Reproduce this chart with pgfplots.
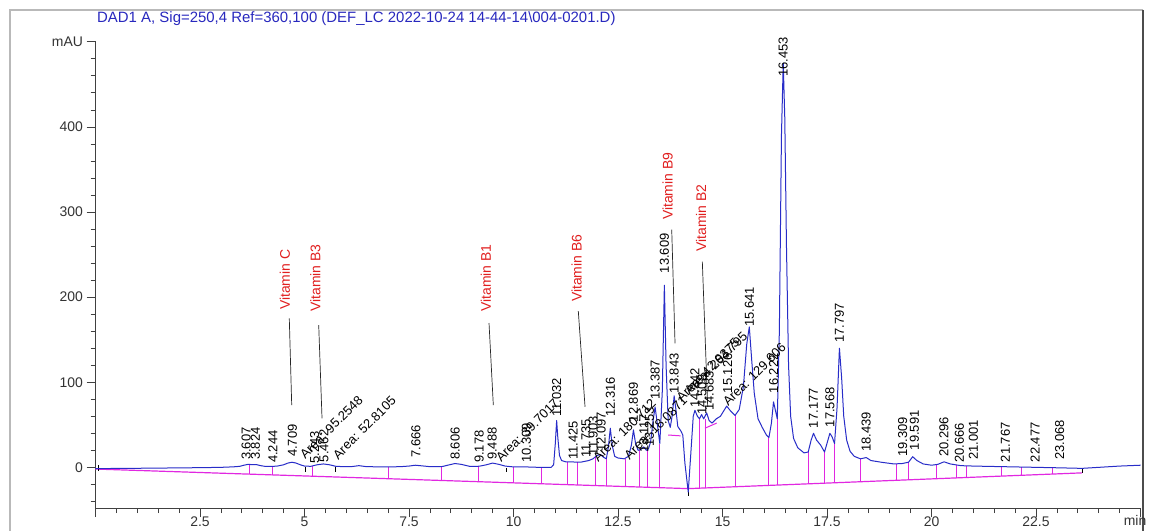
\documentclass[border=0pt]{standalone}
\usepackage{fontspec}
\setmainfont{Liberation Sans}
\usepackage{pgfplots}
\pgfplotsset{compat=1.18}
\definecolor{trace}{RGB}{40,45,200}
\definecolor{bl}{RGB}{225,40,225}
\definecolor{vit}{RGB}{225,30,30}
\definecolor{ttl}{RGB}{40,40,190}
\newcommand\rtf{\fontsize{13}{13}\selectfont}
\newcommand\vitf{\fontsize{14}{14}\selectfont}
\newcommand\rt[3]{\node[rotate=90,anchor=west,inner sep=0pt,font=\rtf] at (axis cs:#1,#2) {#3};}
\newcommand\ar[3]{\node[rotate=45,anchor=west,inner sep=0pt,font=\rtf] at (axis cs:#1,#2) {#3};}
\newcommand\vit[3]{\node[rotate=90,anchor=west,inner sep=0pt,font=\vitf,text=vit] at (axis cs:#1,#2) {#3};}
\begin{document}
\begin{tikzpicture}[x=1bp,y=1bp]
\useasboundingbox (0,0) rectangle (1149,531);
\fill[white] (0,0) rectangle (1149,531);
\draw[gray!55, line width=1.2bp] (10,-5) -- (10,521) -- (1143,521);
\draw[black!70, line width=1.5bp] (1143,521) -- (1143,-5);
\node[anchor=west, inner sep=0pt, text=ttl, font=\fontsize{15}{15}\selectfont] at (97,512) {DAD1 A, Sig=250,4 Ref=360,100 (DEF\_LC 2022-10-24 14-44-14\textbackslash 004-0201.D)};
\begin{axis}[
  at={(95.5bp,22.8bp)}, anchor=south west,
  x=41.8bp, y=0.851bp,
  xmin=0, xmax=25, ymin=-48, ymax=500,
  axis x line=bottom, axis y line=left,
  axis line style={-, black!75, line width=1bp},
  tick align=outside,
  xtick={0,2.5,5,7.5,10,12.5,15,17.5,20,22.5,25},
  xticklabels={,2.5,5,7.5,10,12.5,15,17.5,20,22.5,},
  minor xtick={0.5,1,1.5,2,3,3.5,4,4.5,5.5,6,6.5,7,8,8.5,9,9.5,10.5,11,11.5,12,13,13.5,14,14.5,15.5,16,16.5,17,18,18.5,19,19.5,20.5,21,21.5,22,23,23.5,24,24.5},
  ytick={0,100,200,300,400,500},
  yticklabels={0,100,200,300,400,mAU},
  minor ytick={-40,-20,20,40,60,80,120,140,160,180,220,240,260,280,320,340,360,380,420,440,460,480},
  major tick length=9bp, minor tick length=5bp,
  tick style={black!75, line width=0.8bp},
  ticklabel style={font=\fontsize{14}{14}\selectfont, text=black!80},
  xticklabel style={yshift=4bp},
  clip=false,
]
% baseline
\addplot[bl, line width=1.2bp] coordinates {(0,-2) (14.18,-25) (23.6,-6.5)};
\addplot[bl, line width=1bp] coordinates {(13.7,38) (14.0,37)};
\addplot[bl, line width=1bp] coordinates {(14.58,46) (14.86,52)};
% drop lines
\addplot[bl, line width=1bp, unbounded coords=jump] coordinates {
(3.68,-7.97)(3.68,3.5)(3.68,nan)
(4.23,-8.86)(4.23,1)(4.23,nan)
(5.2,-10.43)(5.2,1.5)(5.2,nan)
(7.02,-13.39)(7.02,0.5)(7.02,nan)
(8.27,-15.41)(8.27,1)(8.27,nan)
(9.16,-16.86)(9.16,1.5)(9.16,nan)
(9.99,-18.2)(9.99,0.5)(9.99,nan)
(10.68,-19.32)(10.68,0)(10.68,nan)
(11.3,-20.33)(11.3,6.5)(11.3,nan)
(11.53,-20.7)(11.53,6)(11.53,nan)
(11.97,-21.42)(11.97,13)(11.97,nan)
(12.22,-21.82)(12.22,10)(12.22,nan)
(12.68,-22.57)(12.68,10)(12.68,nan)
(13.01,-23.1)(13.01,20)(13.01,nan)
(13.21,-23.43)(13.21,22)(13.21,nan)
(13.5,-23.9)(13.5,28)(13.5,nan)
(14.46,-24.45)(14.46,57)(14.46,nan)
(14.59,-24.19)(14.59,57)(14.59,nan)
(15.31,-22.78)(15.31,61)(15.31,nan)
(16.11,-21.21)(16.11,35)(16.11,nan)
(16.31,-20.82)(16.31,57)(16.31,nan)
(17.05,-19.36)(17.05,18)(17.05,nan)
(17.45,-18.58)(17.45,19)(17.45,nan)
(17.69,-18.11)(17.69,28)(17.69,nan)
(18.29,-16.93)(18.29,10)(18.29,nan)
(19.16,-15.22)(19.16,4)(19.16,nan)
(19.45,-14.65)(19.45,6)(19.45,nan)
(20.12,-13.33)(20.12,3)(20.12,nan)
(20.59,-12.41)(20.59,2.5)(20.59,nan)
(20.84,-11.92)(20.84,1.8)(20.84,nan)
(21.68,-10.27)(21.68,1)(21.68,nan)
(22.15,-9.35)(22.15,0.5)(22.15,nan)
(22.89,-7.89)(22.89,-0.5)
};
% black markers
\addplot[black, line width=0.8bp, unbounded coords=jump] coordinates {
(0.08,-4)(0.08,3)(0.08,nan)
(5.01,0)(5.01,-6)(5.01,nan)
(5.74,0)(5.74,-6)(5.74,nan)
(9.84,-1)(9.84,-6)(9.84,nan)
(23.6,-6.5)(23.6,-1)(23.6,nan)
(14.18,-29)(14.18,-34)
};
% trace
\addplot[trace, line width=1bp, line join=round] coordinates {
(0,-1.5)(0.5,-1.3)(1,-1.1)(1.5,-0.9)(2,-0.6)(2.5,-0.4)(3,0)(3.3,0.6)(3.45,1.2)(3.55,2.5)(3.65,3.5)(3.75,3.2)(3.85,3.2)(3.95,2)(4.05,1.2)(4.2,1)(4.35,1.5)(4.5,3)(4.6,5)(4.7,6)(4.8,5)(4.9,3)(5.0,1.5)(5.15,1.2)(5.3,3)(5.45,4)(5.6,3)(5.75,1.2)(5.95,0.8)(6.15,1)(6.3,2)(6.45,1)(6.7,0.6)(7.0,0.5)(7.3,0.8)(7.5,1.5)(7.65,2.5)(7.8,1.8)(8.0,0.8)(8.3,1)(8.45,2.8)(8.6,4.5)(8.75,3.5)(8.95,1.2)(9.1,1)(9.2,1.5)(9.35,3)(9.5,5)(9.65,3.5)(9.8,1.5)(10,0.5)(10.3,0.5)(10.6,0)(10.9,0)(10.96,3)(11.0,28)(11.032,55)(11.06,35)(11.1,14)(11.15,8)(11.25,6.5)(11.4,6.5)(11.5,6)(11.6,6)(11.7,7)(11.8,8)(11.9,10)(12.0,14)(12.08,15)(12.15,12)(12.22,10)(12.27,24)(12.316,46)(12.36,26)(12.42,13)(12.5,11)(12.65,10)(12.75,13)(12.82,26)(12.869,44)(12.92,28)(12.98,20)(13.05,21)(13.117,24)(13.18,20)(13.23,22)(13.28,30)(13.34,55)(13.387,71)(13.43,55)(13.5,28)(13.56,90)(13.609,214)(13.65,120)(13.7,55)(13.75,47)(13.8,62)(13.843,84)(13.88,70)(13.93,48)(14.0,43)(14.05,38)(14.1,5)(14.18,-29)(14.24,15)(14.3,60)(14.34,67)(14.4,60)(14.45,57)(14.5,62)(14.55,57)(14.62,64)(14.68,55)(14.75,52)(14.85,57)(14.95,60)(15.05,68)(15.1,72)(15.18,67)(15.3,61)(15.4,68)(15.5,95)(15.58,145)(15.641,165)(15.7,125)(15.76,87)(15.85,57)(15.95,47)(16.05,38)(16.11,35)(16.17,52)(16.22,77)(16.27,66)(16.31,57)(16.36,160)(16.41,390)(16.453,475)(16.49,410)(16.53,260)(16.58,120)(16.63,60)(16.7,34)(16.8,23)(16.95,17)(17.05,18)(17.12,32)(17.177,40)(17.25,32)(17.35,26)(17.44,18)(17.51,30)(17.568,40)(17.62,36)(17.68,28)(17.74,70)(17.797,140)(17.85,105)(17.9,60)(17.97,32)(18.05,19)(18.15,13)(18.3,10)(18.439,11.5)(18.55,8)(18.8,6)(19.1,4)(19.3,4.5)(19.45,6)(19.55,12.5)(19.65,8)(19.8,4)(20.0,2.5)(20.15,3.5)(20.3,6.5)(20.45,4)(20.7,2)(21.0,1.5)(21.5,1)(22.0,0.5)(22.5,0)(23.0,-0.5)(23.6,-1.2)(24.0,0)(24.5,1.5)(25,2.5)
};
% leader lines
\addplot[black!85, line width=0.7bp, unbounded coords=jump] coordinates {
(4.636,175.1)(4.694,73.2)(4.694,nan)
(5.34,167.2)(5.419,57.6)(5.419,nan)
(9.414,169.6)(9.517,73.2)(9.517,nan)
(11.55,183.6)(11.711,71.2)(11.711,nan)
(13.785,279.4)(13.864,145.7)(13.864,nan)
(14.517,241.6)(14.646,71.2)
};
% vitamin labels
\vit{4.533}{184.8}{Vitamin C}
\vit{5.258}{182.6}{Vitamin B3}
\vit{9.342}{182.6}{Vitamin B1}
\vit{11.512}{194.2}{Vitamin B6}
\vit{13.689}{290.6}{Vitamin B9}
\vit{14.486}{253.3}{Vitamin B2}
% retention time labels
\rt{3.607}{8.6}{3.607}
\rt{3.824}{8.6}{3.824}
\rt{4.244}{5}{4.244}
\rt{4.709}{12}{4.709}
\rt{5.243}{4}{5.243}
\rt{5.462}{6}{5.462}
\rt{7.666}{11}{7.666}
\rt{8.606}{8.6}{8.606}
\rt{9.178}{5}{9.178}
\rt{9.488}{8.6}{9.488}
\rt{10.309}{5}{10.309}
\rt{11.032}{59}{11.032}
\rt{11.425}{8.6}{11.425}
\rt{11.735}{11}{11.735}
\rt{11.903}{14}{11.903}
\rt{12.097}{18}{12.097}
\rt{12.316}{59}{12.316}
\rt{12.869}{53}{12.869}
\rt{13.117}{17}{13.117}
\rt{13.253}{24}{13.253}
\rt{13.387}{79}{13.387}
\rt{13.609}{228}{13.609}
\rt{13.843}{87}{13.843}
\rt{14.342}{70}{14.342}
\rt{14.508}{62}{14.508}
\rt{14.683}{66}{14.683}
\rt{15.126}{87}{15.126}
\rt{15.641}{165}{15.641}
\rt{16.222}{87}{16.222}
\rt{16.453}{459}{16.453}
\rt{17.177}{46}{17.177}
\rt{17.568}{47}{17.568}
\rt{17.797}{146}{17.797}
\rt{18.439}{18}{18.439}
\rt{19.309}{12}{19.309}
\rt{19.591}{20}{19.591}
\rt{20.296}{12}{20.296}
\rt{20.666}{5}{20.666}
\rt{21.001}{8.6}{21.001}
\rt{21.767}{6}{21.767}
\rt{22.477}{6}{22.477}
\rt{23.068}{8.6}{23.068}
% area labels
\ar{4.94}{13}{Area: 95.2548}
\ar{5.73}{12}{Area: 52.8105}
\ar{9.63}{9}{Area: 39.7017}
\ar{11.95}{9}{Area: 180.712}
\ar{12.7}{12}{Area: 18.0871}
\ar{13.95}{80}{Area: 42.9375}
\ar{14.14}{88}{Area: 264.795}
\ar{15.06}{75}{Area: 129.606}
\node[anchor=north east, inner sep=0pt, font=\fontsize{14}{14}\selectfont, text=black!80] at (axis cs:25,-48) [xshift=6bp, yshift=-7bp] {min};
\end{axis}
\end{tikzpicture}
\end{document}
